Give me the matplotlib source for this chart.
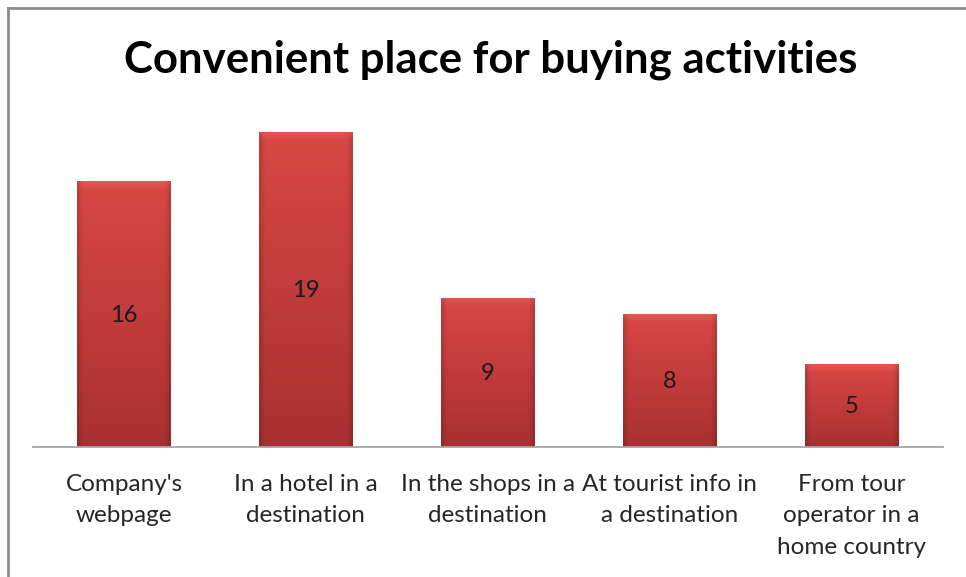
import matplotlib
matplotlib.use("Agg")
import matplotlib.pyplot as plt
import numpy as np
from matplotlib.lines import Line2D

categories = ["Company's\nwebpage", "In a hotel in a\ndestination", "In the shops in a\ndestination",
              "At tourist info in\na destination", "From tour\noperator in a\nhome country"]
values = [16, 19, 9, 8, 5]
title = "Convenient place for buying activities"

W, H = 966, 577
fig = plt.figure(figsize=(W/100, H/100), dpi=100)
fig.patch.set_facecolor("white")

ax_l, ax_r = 33/W, 942.5/W
ax_b, ax_t = (H-447)/H, (H-115)/H
ax = fig.add_axes([ax_l, ax_b, ax_r-ax_l, ax_t-ax_b])
ax.set_xlim(-0.5, len(values)-0.5)
ax.set_ylim(0, 20)
ax.axis("off")

x = np.arange(len(values))
bars = ax.bar(x, values, width=0.515, color="#c43b3b", zorder=2)

ny, nx = 200, 60
yy = np.linspace(0, 1, ny)[:, None]
xx = np.linspace(0, 1, nx)[None, :]
top = np.array([0.85, 0.28, 0.27])
bot = np.array([0.66, 0.19, 0.19])
for b in bars:
    x0, w, h = b.get_x(), b.get_width(), b.get_height()
    t = yy
    base = bot[None, None, :] * (1 - t[..., None]) + top[None, None, :] * t[..., None]
    img = np.repeat(base, nx, axis=1)
    edge = np.clip(np.minimum(xx, 1 - xx) / 0.06, 0, 1)
    img = img * (0.85 + 0.15 * edge[..., None])
    hpx = h * 16.55
    tb = np.clip((1 - yy) * hpx / 8, 0, 1)
    img = img + (1 - tb[..., None]) * 0.06
    img = np.clip(img, 0, 1)
    im = ax.imshow(img, extent=[x0, x0 + w, 0, h], origin="lower", aspect="auto",
                   zorder=3, interpolation="bilinear")
    im.set_clip_path(b)
    ax.text(x0 + w/2, h/2 - 0.08, str(int(h)), ha="center", va="center",
            fontsize=17, family="Lato", color="#1a1a1a", zorder=4)

ax.set_xlim(-0.5, len(values)-0.5)
ax.set_ylim(0, 20)

ax.add_line(Line2D([-0.5, len(values)-0.5], [0, 0], color="#a6a6a6", lw=1.3, zorder=5, clip_on=False))

for xi, lab in zip(x, categories):
    ax.text(xi, -1.6, lab, ha="center", va="top", fontsize=17.5, family="Lato",
            color="#262626", linespacing=1.62, transform=ax.transData)

fig.text(491/W, 1 - 60/H, title, ha="center", va="center", fontsize=31.5,
         fontweight="bold", family="Lato", color="black")

fig.add_artist(Line2D([8/W, 8/W], [0, 1 - 8/H], color="#8c8c8c", lw=2, transform=fig.transFigure))
fig.add_artist(Line2D([8/W, 1], [1 - 8/H, 1 - 8/H], color="#8c8c8c", lw=2, transform=fig.transFigure))

fig.savefig("out.png", dpi=100)
